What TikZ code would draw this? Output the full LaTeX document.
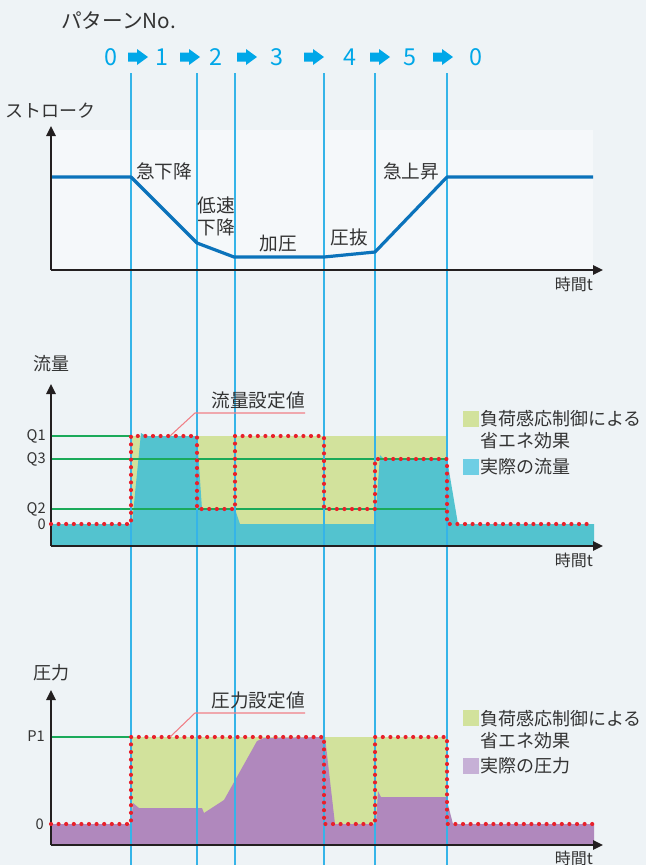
\documentclass[tikz,border=0pt]{standalone}
\usepackage{fontspec}
\setmainfont{Noto Sans CJK JP}
\usetikzlibrary{arrows.meta}
\definecolor{bg}{HTML}{EEF3F6}
\definecolor{plotbg}{HTML}{F5F8FA}
\definecolor{patblue}{HTML}{00A7E8}
\definecolor{vline}{HTML}{35B4E8}
\definecolor{strokeblue}{HTML}{0B73BB}
\definecolor{axiscol}{HTML}{231F20}
\definecolor{gfill}{HTML}{D2E29C}
\definecolor{cfill}{HTML}{53C3CF}
\definecolor{cleg}{HTML}{6ECEE4}
\definecolor{pfill}{HTML}{B088BD}
\definecolor{pleg}{HTML}{C6B0D6}
\definecolor{qline}{HTML}{1BAA5A}
\definecolor{setred}{HTML}{E8202A}
\definecolor{leadercol}{HTML}{F07F86}
\definecolor{txt}{HTML}{333333}
\tikzset{
  lbl/.style={inner sep=0pt, text=txt, font=\fontsize{14pt}{16pt}\selectfont},
  leg/.style={inner sep=0pt, text=txt, anchor=west, font=\fontsize{13.5pt}{16pt}\selectfont},
  ylab/.style={inner sep=0pt, text=txt, font=\fontsize{13.5pt}{16pt}\selectfont},
  tlab/.style={inner sep=0pt, text=txt, font=\fontsize{12pt}{14pt}\selectfont},
  qlab/.style={inner sep=0pt, text=txt, anchor=east, font=\fontsize{11pt}{13pt}\selectfont},
  patnum/.style={inner sep=0pt, text=patblue, font=\fontsize{17.5pt}{19pt}\selectfont},
  axisline/.style={draw=axiscol, line width=1.5pt, -{Triangle[length=7.5pt,width=7pt]}},
  vguide/.style={draw=vline, line width=0.8pt},
  qguide/.style={draw=qline, line width=0.8pt},
  setdots/.style={draw=setred, line width=3.1pt, line cap=round, dash pattern=on 0pt off 5.7pt},
  leaderline/.style={draw=leadercol, line width=0.8pt},
  strokeline/.style={draw=strokeblue, line width=2.4pt, line join=round},
}
\begin{document}
\begin{tikzpicture}[x=0.75pt, y=-0.75pt]
\fill[bg] (0,0) rectangle (646,865);
\useasboundingbox (0,0) rectangle (646,865);

% ---------- header ----------
\node[inner sep=0pt, text=txt, anchor=west, font=\fontsize{15.5pt}{17pt}\selectfont] (pat) at (61,21) {パターンNo.};
\foreach \x/\n [count=\i] in {111/0,162/1,216/2,277/3,350/4,410/5,476/0}
  \node[patnum] (p\i) at (\x,57) {\n};
\foreach \x in {128,180,237,304,370,433}
  \fill[patblue] (\x,52.5) -- (\x+9,52.5) -- (\x+9,49) -- (\x+20,57) -- (\x+9,65) -- (\x+9,61.5) -- (\x,61.5) -- cycle;

% ---------- stroke chart ----------
\fill[plotbg] (51,130) rectangle (593,270);
\node[ylab] (sty) at (51,111) {ストローク};

% ---------- flow chart fills ----------
\fill[gfill] (131,436) rectangle (447,524);
\fill[cfill] (51,546) -- (51,524) -- (132,524) -- (141,433) -- (146,436) -- (197,436) -- (202,509) -- (235,509) -- (240,524)
  -- (375,524) -- (380,455) -- (384,459) -- (447,459) -- (458,524) -- (594,524) -- (594,546) -- cycle;
\draw[qguide] (51,436) -- (131,436);
\draw[qguide] (51,459) -- (447,459);
\draw[qguide] (51,509) -- (447,509);

% ---------- pressure chart fills ----------
\fill[gfill] (131,737) rectangle (447,824);
\fill[pfill] (51,845) -- (51,824) -- (131,824) -- (133,803) -- (139,808) -- (202,808) -- (204,813) -- (224,800)
  -- (257,741) -- (264,738) -- (325,737) -- (335,824) -- (376,824) -- (378,791) -- (381,797) -- (446,797)
  -- (453,824) -- (594,824) -- (594,845) -- cycle;
\draw[qguide] (51,737) -- (131,737);

% ---------- vertical guides ----------
\foreach \x in {131,197,235,324,375,447}
  \draw[vguide] (\x,73) -- (\x,865);

% ---------- stroke curve ----------
\coordinate (s0) at (51,177);
\coordinate (s1) at (131,177);
\coordinate (s2) at (197,243);
\coordinate (s3) at (234,257);
\coordinate (s4) at (324,257);
\coordinate (s5) at (375,252);
\coordinate (s6) at (447,177);
\coordinate (s7) at (593,177);
\draw[strokeline] (s0) -- (s1) -- (s2) -- (s3) -- (s4) -- (s5) -- (s6) -- (s7);

% axes
\coordinate (so) at (51,270);
\coordinate (sy) at (51,126);
\coordinate (sx) at (603,270);
\draw[axisline] (so) -- (sy);
\draw[axisline] (so) -- (sx);
\node[tlab] (st) at (574,284) {時間t};

\node[lbl] (l1) at (164,171) {急下降};
\node[lbl] (l2a) at (216,205) {低速};
\node[lbl] (l2b) at (216,227) {下降};
\node[lbl] (l3) at (278,244) {加圧};
\node[lbl] (l4) at (349,237) {圧抜};
\node[lbl] (l5) at (411,171) {急上昇};

% ---------- flow chart ----------
\node[ylab] (fy) at (51,364) {流量};
\coordinate (fo) at (51,546);
\coordinate (fyt) at (51,384);
\coordinate (fxt) at (603,546);
\draw[axisline] (fo) -- (fyt);
\draw[axisline] (fo) -- (fxt);
\node[tlab] (ft) at (574,560) {時間t};
\node[qlab] (q1) at (46,436) {Q1};
\node[qlab] (q3) at (46,459) {Q3};
\node[qlab] (q2) at (46,509) {Q2};
\node[qlab] (q0) at (46,524) {0};

\draw[setdots] (51,524) -- (131,524) -- (131,436) -- (197,436) -- (197,509) -- (235,509) -- (235,436) -- (324,436)
  -- (324,509) -- (375,509) -- (375,459) -- (447,459) -- (447,524) -- (594,524);

\node[lbl] (fset) at (258,400) {流量設定値};
\coordinate (fu1) at (195,413);
\coordinate (fu2) at (305,413);
\coordinate (fu3) at (170,436);
\draw[leaderline] (fu3) -- (fu1) -- (fu2);

\fill[gfill] (462.5,411) rectangle (479,427);
\node[leg] (fl1) at (480,419) {負荷感応制御による};
\node[leg] (fl2) at (480,441) {省エネ効果};
\fill[cleg] (462.5,459) rectangle (479,475);
\node[leg] (fl3) at (480,467) {実際の流量};

% ---------- pressure chart ----------
\node[ylab] (py) at (51,673) {圧力};
\coordinate (po) at (51,845);
\coordinate (pyt) at (51,690);
\coordinate (pxt) at (603,845);
\draw[axisline] (po) -- (pyt);
\draw[axisline] (po) -- (pxt);
\node[tlab] (pt) at (574,858) {時間t};
\node[qlab] (pp1) at (45,736) {P1};
\node[qlab] (pp0) at (44,824) {0};

\draw[setdots] (51,824) -- (131,824) -- (131,737) -- (324,737) -- (324,824) -- (375,824) -- (375,737) -- (447,737)
  -- (447,824) -- (594,824);

\node[lbl] (pset) at (258,700) {圧力設定値};
\coordinate (pu1) at (195,713);
\coordinate (pu2) at (305,713);
\coordinate (pu3) at (170,737);
\draw[leaderline] (pu3) -- (pu1) -- (pu2);

\fill[gfill] (462.5,710) rectangle (479,726);
\node[leg] (pl1) at (480,719) {負荷感応制御による};
\node[leg] (pl2) at (480,741) {省エネ効果};
\fill[pleg] (462.5,758) rectangle (479,774);
\node[leg] (pl3) at (480,766) {実際の圧力};
\end{tikzpicture}
\end{document}
